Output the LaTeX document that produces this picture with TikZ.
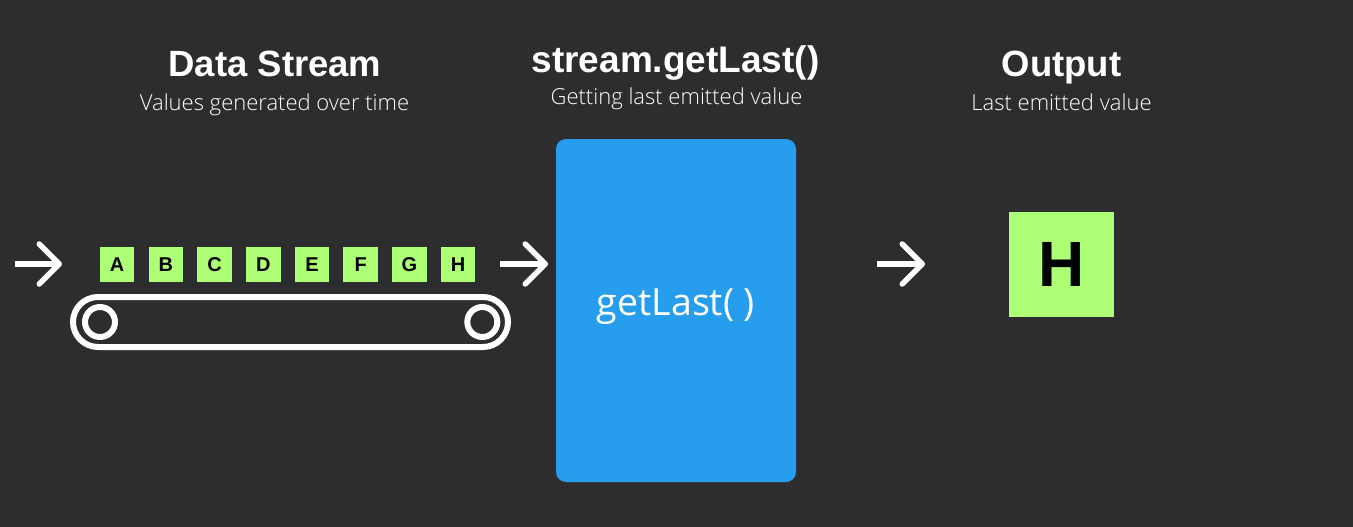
\documentclass[tikz,border=0pt]{standalone}
\usepackage{fontspec}
\setmainfont{Liberation Sans}
\newfontfamily\lightf{Open Sans Light}
\newfontfamily\regf{Open Sans}
\usetikzlibrary{arrows.meta}
\definecolor{bgc}{HTML}{2D2D30}
\definecolor{bluec}{HTML}{279DEE}
\definecolor{greenc}{HTML}{ADFF75}
\tikzset{
  x=1pt,y=-1pt,
  flow/.style={draw=white,line width=5.5pt,-{Straight Barb[length=20pt,width=40pt,round,line width=5.5pt]}},
  item/.style={fill=greenc,minimum size=34.5pt,inner sep=0pt,text=black,font=\fontsize{20}{20}\selectfont\bfseries},
  titlet/.style={text=white,inner sep=0pt,anchor=base,font=\fontsize{36.5}{37}\selectfont\bfseries},
  subt/.style={text=white,inner sep=0pt,anchor=base,font=\fontsize{22}{22}\selectfont\lightf},
  ring/.style={draw=white,line width=6pt,circle,minimum size=30pt,inner sep=0pt},
}
\begin{document}
\begin{tikzpicture}
\useasboundingbox (0,0) rectangle (1353,527);
\fill[bgc] (0,0) rectangle (1353,527);
\node[titlet] (t1) at (275,77) {Data Stream};
\node[subt] (s1) at (274.5,110.5) {Values generated over time};
\node[titlet,font=\fontsize{37}{37}\selectfont\bfseries] (t2) at (675.5,73) {stream.getLast()};
\node[subt] (s2) at (676.5,105) {Getting last emitted value};
\node[titlet] (t3) at (1061.5,77) {Output};
\node[subt] (s3) at (1061.5,110.5) {Last emitted value};
\node[fill=bluec,rounded corners=10pt,minimum width=240pt,minimum height=343pt,inner sep=0pt] (op) at (676,310.5) {};
\node[text=white,inner sep=0pt,anchor=base,font=\fontsize{37.5}{38}\selectfont\regf] (oplabel) at (676,315) {getLast( )};
\foreach \n/\xx in {A/117.2,B/165.9,C/214.6,D/263.3,E/312,F/360.7,G/409.4,H/458.1}
  \node[item] (i\n) at (\xx,264.5) {\n};
\node[fill=greenc,minimum size=105pt,inner sep=0pt,text=black,font=\fontsize{64}{64}\selectfont\bfseries] (out) at (1061.5,264.5) {H};
\node[draw=white,line width=6pt,rounded corners=25pt,minimum width=435pt,minimum height=50pt,inner sep=0pt] (belt) at (290.5,322) {};
\node[ring] (w1) at (100,322) {};
\node[ring] (w2) at (482.3,322) {};
\coordinate (a1s) at (15,264);
\coordinate (a1e) at (62,264);
\coordinate (a2s) at (500,264);
\coordinate (a2e) at (548,264);
\coordinate (a3s) at (877,264);
\coordinate (a3e) at (925,264);
\draw[flow] (a1s) -- (a1e);
\draw[flow] (a2s) -- (a2e);
\draw[flow] (a3s) -- (a3e);
\end{tikzpicture}
\end{document}
